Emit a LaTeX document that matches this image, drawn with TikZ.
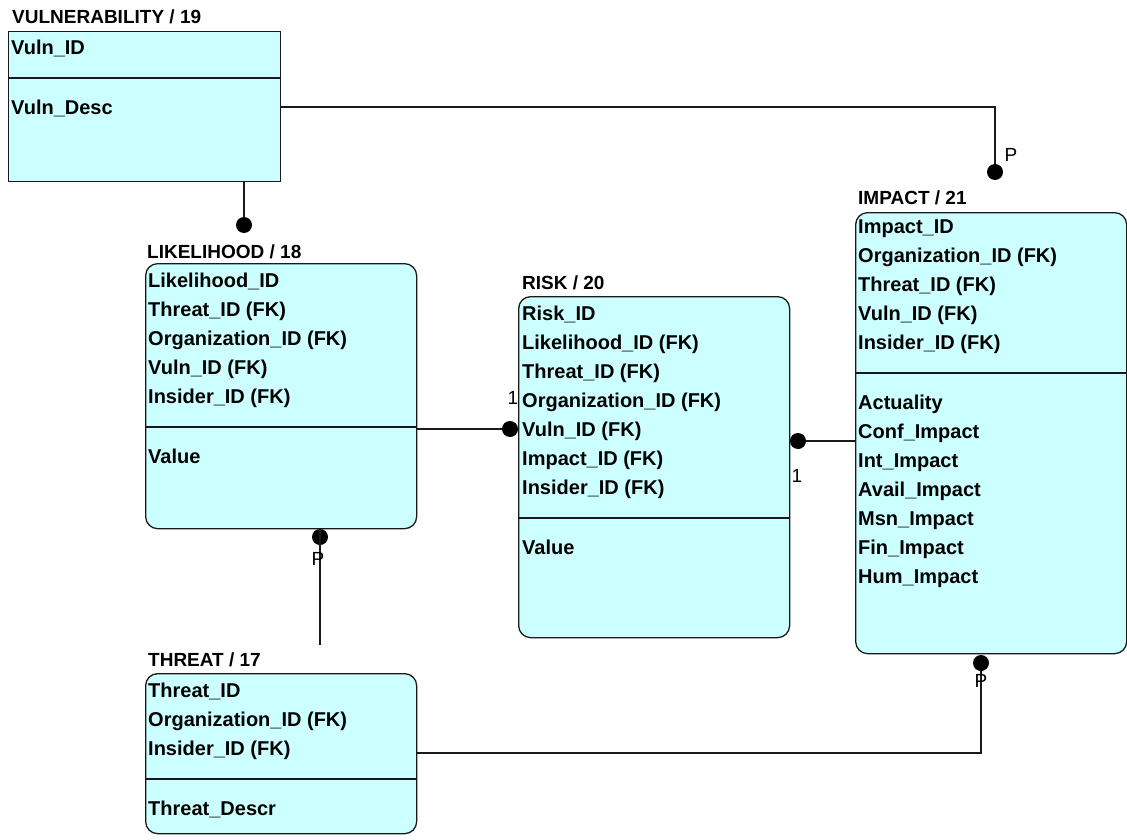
\documentclass[tikz,border=0pt]{standalone}
\usepackage{fontspec}
\setmainfont{Liberation Sans}
\usetikzlibrary{positioning}
\definecolor{erfill}{RGB}{204,255,255}
\definecolor{erline}{RGB}{25,25,25}

\begin{document}
\begin{tikzpicture}[x=1pt,y=-1pt,
		entity/.style={draw=erline,fill=erfill,line width=1.3pt,inner sep=0pt,anchor=north west},
		soft/.style={rounded corners=12pt},
		title/.style={anchor=west,inner sep=0pt,font=\fontsize{19}{19}\selectfont\bfseries},
		attrs/.style={anchor=north west,align=left,inner sep=0pt,font=\fontsize{20}{29}\selectfont\bfseries},
		dot/.style={circle,fill=black,inner sep=0pt,minimum size=16pt},
		card/.style={inner sep=0pt,font=\fontsize{19}{19}\selectfont},
		link/.style={draw=erline,line width=1.3pt}]

		\useasboundingbox (0,0) rectangle (1127,840);

		% Vulnerability
		\node[title] (vulnT) at (12,17) {VULNERABILITY / 19};
		\node[entity,minimum width=272pt,minimum height=150pt] (vuln) at (8,31) {};
		\draw[link] (vuln.west |- 0,78) -- (vuln.east |- 0,78);
		\node[attrs] (vulnK) at (11,39.5) {Vuln\_ID};
		\node[attrs] (vulnA) at (11,99.5) {Vuln\_Desc};

		% Likelihood
		\node[title] (likeT) at (147,252) {LIKELIHOOD / 18};
		\node[entity,soft,minimum width=271pt,minimum height=265pt] (like) at (145,263) {};
		\draw[link] (like.west |- 0,427) -- (like.east |- 0,427);
		\node[attrs] (likeK) at (148,272.5) {Likelihood\_ID\\Threat\_ID (FK)\\Organization\_ID (FK)\\Vuln\_ID (FK)\\Insider\_ID (FK)};
		\node[attrs] (likeA) at (148,448.5) {Value};

		% Risk
		\node[title] (riskT) at (522,283) {RISK / 20};
		\node[entity,soft,minimum width=271pt,minimum height=341pt] (risk) at (518,296) {};
		\draw[link] (risk.west |- 0,518) -- (risk.east |- 0,518);
		\node[attrs] (riskK) at (522,305.5) {Risk\_ID\\Likelihood\_ID (FK)\\Threat\_ID (FK)\\Organization\_ID (FK)\\Vuln\_ID (FK)\\Impact\_ID (FK)\\Insider\_ID (FK)};
		\node[attrs] (riskA) at (522,539.5) {Value};

		% Impact
		\node[title] (impT) at (858,198) {IMPACT / 21};
		\node[entity,soft,minimum width=271pt,minimum height=441pt] (imp) at (855,212) {};
		\draw[link] (imp.west |- 0,373) -- (imp.east |- 0,373);
		\node[attrs] (impK) at (858,219.5) {Impact\_ID\\Organization\_ID (FK)\\Threat\_ID (FK)\\Vuln\_ID (FK)\\Insider\_ID (FK)};
		\node[attrs] (impA) at (858,394.5) {Actuality\\Conf\_Impact\\Int\_Impact\\Avail\_Impact\\Msn\_Impact\\Fin\_Impact\\Hum\_Impact};

		% Threat
		\node[title] (thrT) at (148,660) {THREAT / 17};
		\node[entity,soft,minimum width=271pt,minimum height=160pt] (thr) at (145,673) {};
		\draw[link] (thr.west |- 0,779) -- (thr.east |- 0,779);
		\node[attrs] (thrK) at (148,682.5) {Threat\_ID\\Organization\_ID (FK)\\Insider\_ID (FK)};
		\node[attrs] (thrA) at (148,800.5) {Threat\_Descr};

		% Relationship ends
		\node[dot] (dotVL) at (244,225) {};
		\node[dot] (dotVI) at (995,172) {};
		\node[dot] (dotLR) at (510,429) {};
		\node[dot] (dotRI) at (798,441) {};
		\node[dot] (dotLT) at (320,537) {};
		\node[dot] (dotTI) at (981,663) {};

		\coordinate (bendVI) at (995,107);
		\coordinate (endLT) at (320,645);
		\coordinate (bendTI) at (981,753);

		\draw[link] (vuln.south -| dotVL) -- (dotVL);
		\draw[link] (vuln.east |- bendVI) -- (bendVI) -- (dotVI);
		\draw[link] (like.east |- dotLR) -- (dotLR);
		\draw[link] (dotRI) -- (imp.west |- dotRI);
		\draw[link] (like.south -| dotLT) -- (endLT);
		\draw[link] (thr.east |- bendTI) -- (bendTI) -- (dotTI);

		% Cardinalities
		\node[card] (cardVI) at (1011,155) {P};
		\node[card] (cardLR) at (513,398) {1};
		\node[card] (cardRI) at (797,476) {1};
		\node[card] (cardLT) at (318,559) {P};
		\node[card] (cardTI) at (981,681) {P};
\end{tikzpicture}
\end{document}
